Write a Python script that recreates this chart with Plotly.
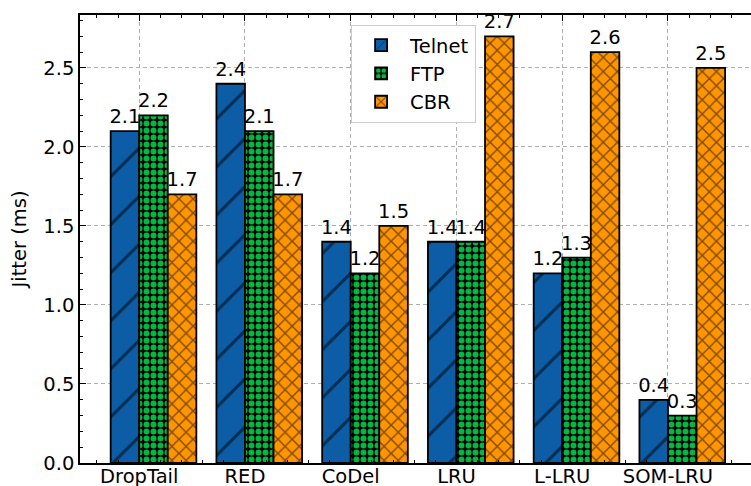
import numpy as np
import plotly.graph_objects as go

# Queue-management schemes and jitter per traffic type (ms)
schemes = ["DropTail", "RED", "CoDel", "LRU", "L-LRU", "SOM-LRU"]
telnet = [2.1, 2.4, 1.4, 1.4, 1.2, 0.4]
ftp = [2.2, 2.1, 1.2, 1.4, 1.3, 0.3]
cbr = [1.7, 1.7, 1.5, 2.7, 2.6, 2.5]

FONT = "DejaVu Sans"
FS = 19.5
W = 0.27  # width of one bar in a group

x = np.arange(len(schemes))

series = [
    ("Telnet", telnet, "#0C5DA5", dict(shape="/", size=34, solidity=0.09, fgcolor="black", fillmode="overlay")),
    ("FTP", ftp, "#00B945", dict(shape=".", size=7, solidity=0.55, fgcolor="#00B945", bgcolor="black", fillmode="replace")),
    ("CBR", cbr, "#FF9500", dict(shape="x", size=10, solidity=0.26, fgcolor="black", fillmode="overlay")),
]

fig = go.Figure()
for i, (name, vals, color, pat) in enumerate(series):
    fig.add_trace(go.Bar(
        x=x + i * W,
        y=vals,
        width=W,
        name=name,
        legendgroup=name,
        marker=dict(color=color, line=dict(color="black", width=1.8), pattern=pat),
        text=[f"{v:.1f}" for v in vals],
        textposition="outside",
        textfont=dict(family=FONT, size=FS, color="black"),
        constraintext="none",
        cliponaxis=False,
    ))

fig.update_layout(
    width=751,
    height=486,
    margin=dict(l=80, r=0, t=15, b=23),
    paper_bgcolor="white",
    plot_bgcolor="white",
    barmode="overlay",
    font=dict(family=FONT, size=FS, color="black"),
    showlegend=True,
    legend=dict(
        x=0.404, y=0.978, xanchor="left", yanchor="top",
        bgcolor="white", bordercolor="#cccccc", borderwidth=1,
        font=dict(family=FONT, size=FS, color="black"),
        tracegroupgap=0,
        itemwidth=48,
    ),
)

fig.update_xaxes(
    range=[-0.425, 5.92],
    automargin=False,
    tickmode="array",
    tickvals=x + W / 2,
    ticktext=schemes,
    ticks="inside",
    ticklen=6,
    tickwidth=1.2,
    tickcolor="black",
    ticklabelstandoff=-5,
    showline=True,
    linecolor="black",
    linewidth=1.5,
    mirror="allticks",
    showgrid=True,
    gridcolor="#b0b0b0",
    griddash="4px,3px",
    gridwidth=1,
    zeroline=False,
    minor=dict(tick0=W / 2, dtick=0.2, ticks="inside", ticklen=3, tickcolor="black", tickwidth=1),
    tickfont=dict(family=FONT, size=FS, color="black"),
)

fig.update_yaxes(
    range=[0, 2.835],
    automargin=False,
    dtick=0.5,
    tick0=0,
    tickformat=".1f",
    ticks="inside",
    ticklen=6,
    tickwidth=1.2,
    tickcolor="black",
    showline=True,
    linecolor="black",
    linewidth=1.5,
    mirror=False,
    showgrid=True,
    gridcolor="#b0b0b0",
    griddash="4px,3px",
    gridwidth=1,
    zeroline=False,
    minor=dict(dtick=0.1, ticks="inside", ticklen=3, tickcolor="black", tickwidth=1),
    tickfont=dict(family=FONT, size=FS, color="black"),
    title=dict(text="Jitter (ms)", font=dict(family=FONT, size=FS, color="black"), standoff=12),
)

fig.write_html("out.html")
